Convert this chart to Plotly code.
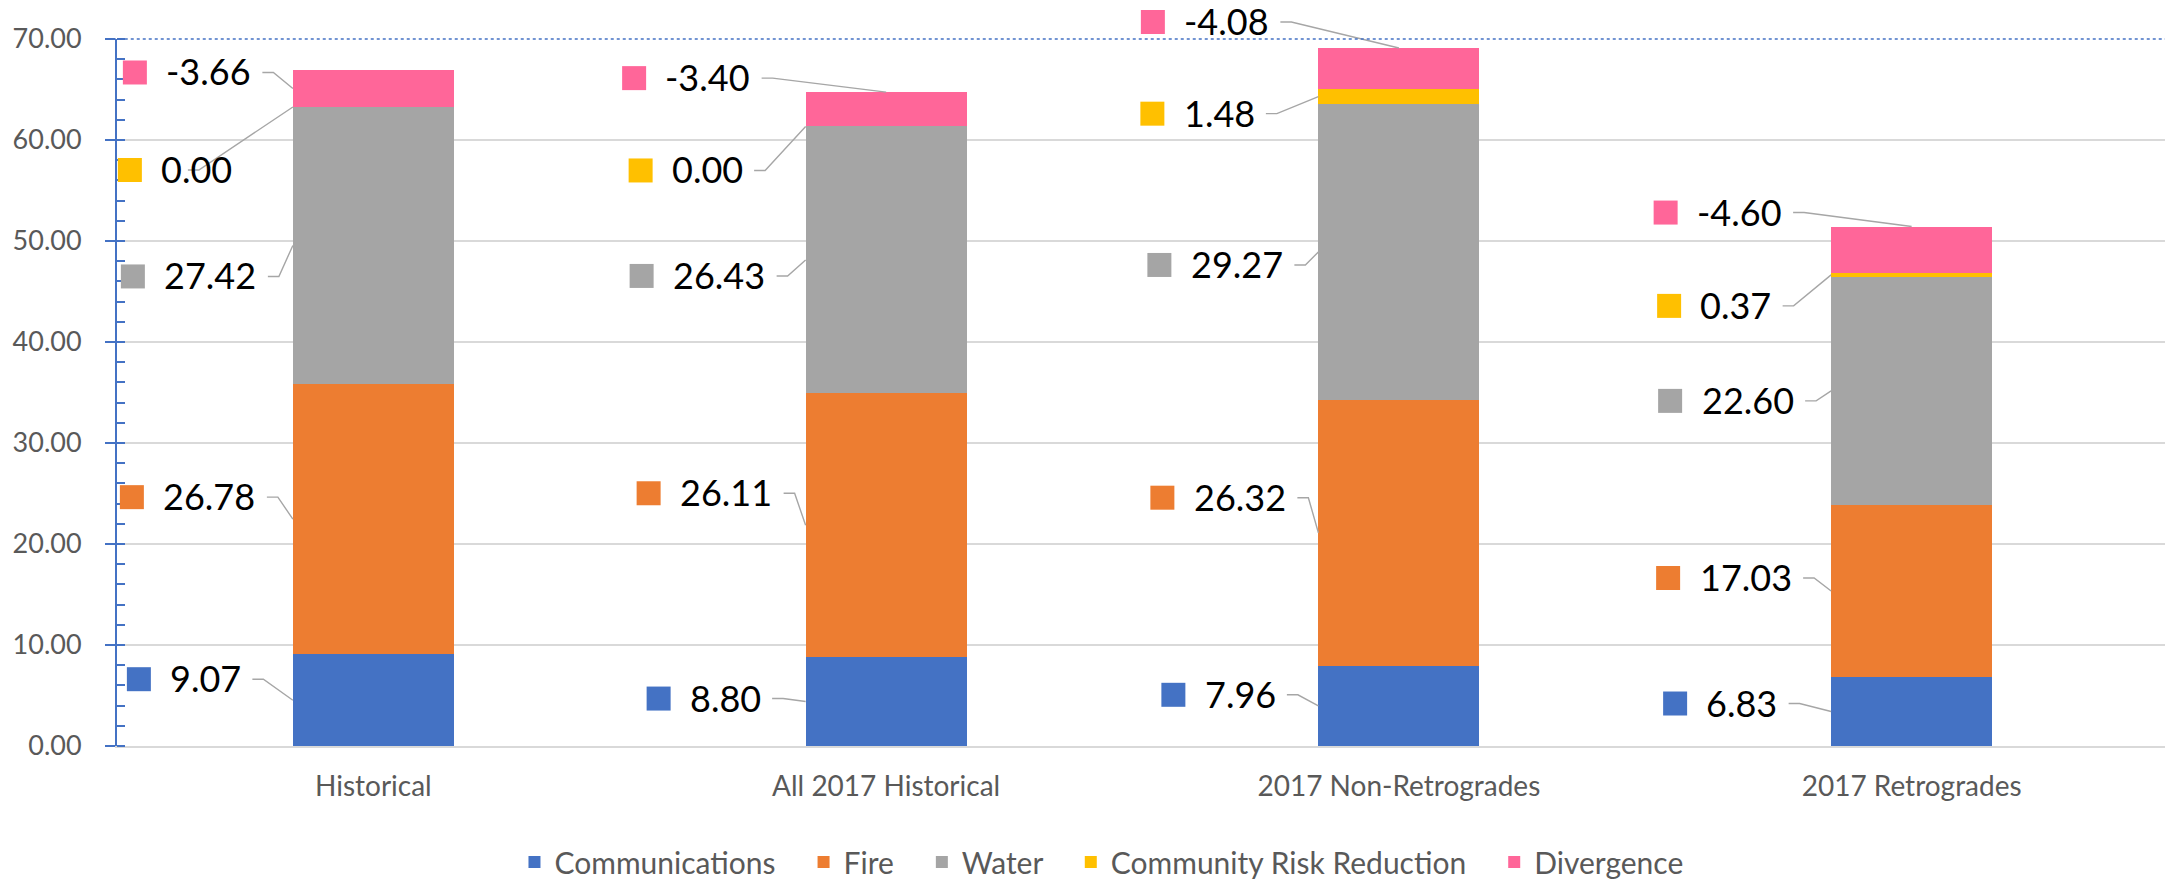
import plotly.graph_objects as go

categories = ["Historical", "All 2017 Historical", "2017 Non-Retrogrades", "2017 Retrogrades"]
communications = [9.07, 8.80, 7.96, 6.83]
fire = [26.78, 26.11, 26.32, 17.03]
water = [27.42, 26.43, 29.27, 22.60]
community_risk = [0.00, 0.00, 1.48, 0.37]
divergence = [-3.66, -3.40, -4.08, -4.60]

series_names = ["Communications", "Fire", "Water", "Community Risk Reduction", "Divergence"]
series_colors = ["#4472C4", "#ED7D31", "#A5A5A5", "#FFC000", "#FF6699"]

BAR_W = 0.314
Y_MAX = 70
FONT = "Lato"

# where each callout sits, in pixels from the point its leader touches
# (text left edge dx, text middle dy; dy > 0 is downwards)
label_offsets = {
    "Communications": [(-124, -21), (-117, -3), (-115, -11), (-126, -8)],
    "Fire": [(-131, -22), (-127, -32), (-126, -35), (-133, -13)],
    "Water": [(-130, 31), (-134, 16), (-129, 13), (-131, 10)],
    "Community Risk Reduction": [(-133, 63), (-135, 44), (-136, 17), (-132, 31)],
    "Divergence": [(-128, -16), (-222, -14), (-216, -26), (-216, -14)],
}
# divergence leaders go to the top middle of the bar, except the first one
div_to_top = [False, True, True, True]
# the Historical 0.00 leader starts under its own text
leader_start_override = {("Community Risk Reduction", 0): -105}


def text_width(s):
    w = 0
    for ch in s:
        if ch == ".":
            w += 9
        elif ch == "-":
            w += 14
        else:
            w += 21.5
    return w


series_values = [communications, fire, water, community_risk, divergence]
heights = [communications, fire, water, community_risk, [abs(v) for v in divergence]]

fig = go.Figure()
for k, (name, col, h) in enumerate(zip(series_names, series_colors, heights)):
    # non-breaking spaces widen the gap between legend entries
    legend_name = name if k == len(series_names) - 1 else name + "\u00a0" * 3
    fig.add_trace(go.Bar(
        name=legend_name, x=categories, y=h, width=BAR_W,
        marker=dict(color=col, line=dict(width=0)),
    ))

shapes = []
annotations = []
n_cat = len(categories)
for s, name in enumerate(series_names):
    for i in range(n_cat):
        base = sum(heights[k][i] for k in range(s))
        top = base + heights[s][i]
        if name == "Divergence" and div_to_top[i]:
            ax = (i + 0.5) / n_cat
            ay = top / Y_MAX
        else:
            ax = (i - BAR_W / 2 + 0.5) / n_cat
            ay = (base + heights[s][i] / 2) / Y_MAX
        dx, dy = label_offsets[name][i]
        txt = "%.2f" % series_values[s][i]
        tw = text_width(txt)
        # value text
        annotations.append(dict(
            xref="paper", yref="paper", x=ax, y=ay, text=txt, showarrow=False,
            xanchor="center", yanchor="middle", xshift=dx + tw / 2, yshift=-dy + 1,
            font=dict(family=FONT, size=36, color="#000000"),
        ))
        # coloured key square
        shapes.append(dict(
            type="rect", xref="paper", yref="paper", xsizemode="pixel", ysizemode="pixel",
            xanchor=ax, yanchor=ay, x0=dx - 42, x1=dx - 18, y0=-dy - 12, y1=-dy + 12,
            fillcolor=series_colors[s], line=dict(width=0), layer="above",
        ))
        # leader line
        sx = leader_start_override.get((name, i), dx + tw + 10)
        path = "M%.1f,%.1f L%.1f,%.1f L0,0" % (sx, -dy, sx + 11, -dy)
        shapes.append(dict(
            type="path", xref="paper", yref="paper", xsizemode="pixel", ysizemode="pixel",
            xanchor=ax, yanchor=ay, path=path,
            line=dict(color="#A6A6A6", width=1.4), layer="above",
        ))

# plot-area border (dotted, top and right)
shapes.append(dict(type="line", xref="paper", yref="paper", x0=-0.005, x1=1, y0=1, y1=1,
                   line=dict(color="#4472C4", width=1.5, dash="dot"), layer="above"))
shapes.append(dict(type="line", xref="paper", yref="paper", x0=0.999, x1=0.999, y0=0, y1=1,
                   line=dict(color="#4472C4", width=1.5, dash="dot"), layer="above"))

# page body adds an 8px offset, so the figure is 8px smaller than the window
fig.update_layout(
    width=2165, height=874,
    margin=dict(l=109, r=5, t=31, b=136, autoexpand=False),
    barmode="stack",
    plot_bgcolor="white", paper_bgcolor="white",
    font=dict(family=FONT, color="#595959"),
    shapes=shapes, annotations=annotations,
    showlegend=True,
    legend=dict(orientation="h", x=0.48, xanchor="center", y=-0.164, yanchor="middle",
                font=dict(family=FONT, size=30, color="#595959"),
                traceorder="normal", itemwidth=30),
)
fig.update_xaxes(
    range=[-0.5, 3.5], showline=True, linecolor="#D9D9D9", linewidth=2,
    showgrid=False, ticks="", tickfont=dict(family=FONT, size=28, color="#595959"),
    ticklabelstandoff=14, automargin=False,
)
fig.update_yaxes(
    range=[0, Y_MAX], dtick=10, tickformat=".2f",
    showgrid=True, gridcolor="#D9D9D9", gridwidth=1.5, zeroline=False,
    showline=True, linecolor="#4472C4", linewidth=2,
    ticks="outside", ticklen=10, tickcolor="#4472C4", tickwidth=2,
    minor=dict(dtick=2, ticks="inside", ticklen=8, tickcolor="#4472C4", tickwidth=1.5, showgrid=False),
    tickfont=dict(family=FONT, size=27, color="#595959"),
    ticklabelstandoff=18, automargin=False,
)

fig.write_html("out.html")
